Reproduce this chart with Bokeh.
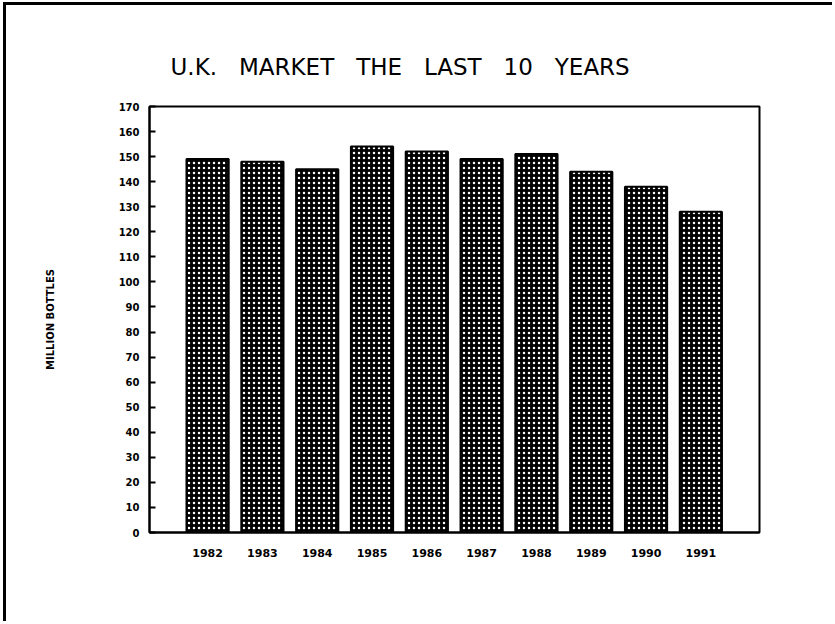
from bokeh.plotting import figure
from bokeh.models import Range1d, FixedTicker, Title
from bokeh.embed import file_html
from bokeh.resources import INLINE

years = [1982, 1983, 1984, 1985, 1986, 1987, 1988, 1989, 1990, 1991]
bottles = [149, 148, 145, 154, 152, 149, 151, 144, 138, 128]
y_ticks = list(range(0, 171, 10))
title_words = ["U.K.", "MARKET", "THE", "LAST", "10", "YEARS"]

p = figure(
    width=829, height=619,
    x_range=Range1d(1980.94, 1992.07),
    y_range=Range1d(0, 170),
    output_backend="svg", toolbar_location=None,
    min_border_left=143, min_border_right=76,
    min_border_top=101, min_border_bottom=92,
    styles={"margin-left": "3px", "margin-top": "2px",
            "border-left": "3px solid black", "border-top": "3px solid black"},
)

p.vbar(x=years, top=bottles, bottom=0, width=0.77,
       fill_color="black", line_color="black", line_width=2,
       hatch_pattern="dot", hatch_color="white", hatch_scale=5, hatch_weight=1.6)

p.xgrid.visible = False
p.ygrid.visible = False
p.outline_line_color = "black"
p.outline_line_width = 2

# y axis: ticks every 10, pointing into the plot
p.yaxis.ticker = FixedTicker(ticks=y_ticks)
p.yaxis.major_tick_in = 6
p.yaxis.major_tick_out = 0
p.yaxis.minor_tick_line_color = None
p.yaxis.axis_line_width = 2
p.yaxis.major_tick_line_width = 2
p.yaxis.major_label_standoff = 10
p.yaxis.major_label_text_color = "black"
p.yaxis.major_label_text_font = "DejaVu Sans"
p.yaxis.major_label_text_font_style = "bold"
p.yaxis.major_label_text_font_size = "10px"
p.yaxis.axis_label = "MILLION BOTTLES"
p.yaxis.axis_label_text_color = "black"
p.yaxis.axis_label_text_font = "DejaVu Sans"
p.yaxis.axis_label_text_font_style = "bold"
p.yaxis.axis_label_text_font_size = "10px"
p.yaxis.axis_label_standoff = 60

# x axis: year labels under each bar, no tick marks
p.xaxis.ticker = FixedTicker(ticks=years)
p.xaxis.major_tick_line_color = None
p.xaxis.minor_tick_line_color = None
p.xaxis.axis_line_width = 2
p.xaxis.major_label_standoff = 10
p.xaxis.major_label_text_color = "black"
p.xaxis.major_label_text_font = "DejaVu Sans"
p.xaxis.major_label_text_font_style = "bold"
p.xaxis.major_label_text_font_size = "11px"

# widely spaced words, as in the original plotter-style heading
title_text = "\u00a0\u00a0\u00a0".join(title_words)
p.add_layout(Title(text=title_text, align="left", offset=21,
                   text_color="black", text_font="DejaVu Sans",
                   text_font_style="normal", text_font_size="23px",
                   standoff=54), "above")

open("out.html", "w").write(file_html(p, INLINE))
